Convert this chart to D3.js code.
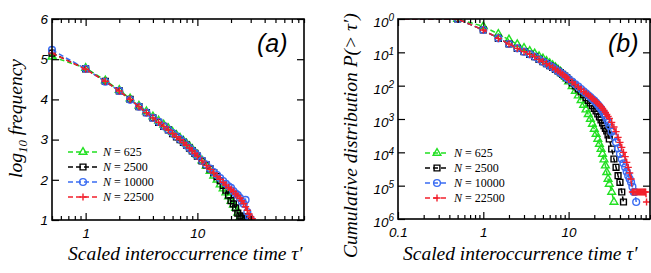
<!DOCTYPE html>
<html>
<head>
<meta charset="utf-8">
<script src="https://cdn.jsdelivr.net/npm/d3@7"></script>
<style>
  body { margin: 0; background: #fff; }
  svg { display: block; }
  .tick text { font-family: "Liberation Sans", Arial, sans-serif; font-style: italic; font-size: 13.5px; fill: #000; }
  .ttl { font-family: "Liberation Serif", "Times New Roman", serif; font-style: italic; font-size: 19.5px; }
  .leg { font-family: "Liberation Serif", "Times New Roman", serif; font-size: 12px; }
  .tag { font-family: "Liberation Sans", Arial, sans-serif; font-style: italic; font-size: 25px; }
</style>
</head>
<body>
<svg id="chart" width="651" height="273"></svg>
<script>
// legend labels (system sizes)
var sizes = ["625", "2500", "10000", "22500"];

// ---- panel (a): log10 frequency vs scaled time ----
var tauA = [0.5, 1, 1.5, 2, 2.5, 3, 3.5, 4, 4.5, 5, 5.5, 6, 6.5, 7, 7.5, 8, 8.5, 9, 9.5, 10,
            11, 12, 13, 14, 15, 16, 17, 18, 19, 20, 21, 22, 23, 24, 25, 26, 27, 28, 29, 30, 31];
var freq625   = [5.06, 4.78, 4.47, 4.23, 4.02, 3.84, 3.70, 3.57, 3.47, 3.37, 3.28, 3.19, 3.11, 3.04, 2.97, 2.90, 2.83, 2.76, 2.69, 2.62,
                 2.48, 2.35, 2.22, 2.10, 2.00, 1.88, 1.78, 1.68, 1.58, 1.47, 1.38, 1.30, 1.18, 1.06];
var freq2500  = [5.15, 4.76, 4.45, 4.21, 4.00, 3.82, 3.67, 3.54, 3.43, 3.33, 3.24, 3.15, 3.07, 3.00, 2.93, 2.86, 2.79, 2.72, 2.66, 2.59,
                 2.47, 2.37, 2.27, 2.18, 2.08, 1.98, 1.86, 1.74, 1.62, 1.48, 1.40, 1.30, 1.17, 1.10, 1.04, 1.08, 1.02, 1.05, 1.00];
var freq10000 = [5.23, 4.76, 4.44, 4.21, 3.99, 3.82, 3.67, 3.54, 3.44, 3.33, 3.24, 3.16, 3.08, 3.01, 2.94, 2.86, 2.79, 2.72, 2.66, 2.60,
                 2.48, 2.38, 2.28, 2.19, 2.12, 2.04, 1.97, 1.90, 1.84, 1.80, 1.72, 1.66, 1.62, 1.55, 1.46, 1.40, 1.50, 1.20, 1.08, 1.02];
var freq22500 = [5.15, 4.75, 4.45, 4.21, 4.00, 3.82, 3.67, 3.54, 3.43, 3.33, 3.24, 3.15, 3.07, 3.00, 2.93, 2.86, 2.79, 2.72, 2.66, 2.59,
                 2.47, 2.36, 2.26, 2.17, 2.09, 2.01, 1.94, 1.87, 1.81, 1.76, 1.71, 1.65, 1.60, 1.54, 1.48, 1.41, 1.33, 1.24, 1.15, 1.08, 1.03];

// ---- panel (b): cumulative distribution ----
var tauB = [0.05, 0.5, 1, 1.5, 2, 2.5, 3, 3.5, 4, 4.5, 5, 5.5, 6, 6.5, 7, 7.5, 8, 8.5, 9, 9.5, 10,
            11, 12, 13, 14, 15, 16, 17, 18, 19, 20, 21, 22, 23, 24, 25, 26, 27, 28, 29, 30,
            32, 34, 36, 38, 40, 42, 44, 46, 48, 50, 52, 54, 56, 58, 60, 62, 64, 66, 68, 70, 72, 74, 76, 78, 80, 82];
// log10 P(> tau')
var cum625   = [0, 0, -0.22, -0.45, -0.62, -0.76, -0.87, -0.96, -1.04, -1.12, -1.19, -1.26, -1.33, -1.39, -1.45, -1.52, -1.58, -1.65, -1.72, -1.79, -1.88,
                -2.02, -2.16, -2.30, -2.44, -2.58, -2.72, -2.86, -3.00, -3.15, -3.30, -3.45, -3.60, -3.75, -3.90, -4.05, -4.22, -4.40, -4.60, -4.80, -4.95,
                -5.19, -5.49];
var cum2500  = [0, 0, -0.33, -0.58, -0.75, -0.88, -0.98, -1.06, -1.13, -1.21, -1.28, -1.34, -1.40, -1.45, -1.51, -1.56, -1.61, -1.66, -1.71, -1.76, -1.82,
                -1.92, -2.01, -2.10, -2.19, -2.27, -2.36, -2.44, -2.52, -2.60, -2.68, -2.76, -2.85, -2.94, -3.03, -3.12, -3.20, -3.28, -3.36, -3.48, -3.60,
                -3.90, -4.20, -4.45, -4.70, -4.90, -5.19, -5.49];
var cum10000 = [0, 0, -0.33, -0.58, -0.75, -0.88, -0.98, -1.06, -1.13, -1.21, -1.28, -1.34, -1.40, -1.45, -1.51, -1.56, -1.61, -1.66, -1.71, -1.76, -1.80,
                -1.88, -1.96, -2.03, -2.10, -2.17, -2.23, -2.29, -2.34, -2.40, -2.45, -2.51, -2.57, -2.63, -2.69, -2.76, -2.84, -2.92, -3.00, -3.10, -3.20,
                -3.38, -3.52, -3.70, -3.88, -4.05, -4.20, -4.33, -4.45, -4.58, -4.70, -4.80, -4.90, -5.03, -5.19, -5.19, -5.49];
var cum22500 = [0, 0, -0.33, -0.58, -0.75, -0.88, -0.98, -1.06, -1.13, -1.21, -1.28, -1.34, -1.40, -1.45, -1.51, -1.56, -1.61, -1.66, -1.71, -1.76, -1.81,
                -1.89, -1.97, -2.04, -2.11, -2.17, -2.23, -2.28, -2.33, -2.38, -2.43, -2.48, -2.53, -2.58, -2.63, -2.68, -2.74, -2.80, -2.86, -2.92, -2.98,
                -3.10, -3.24, -3.38, -3.55, -3.70, -3.85, -4.00, -4.13, -4.30, -4.45, -4.62, -4.80, -5.19, -5.19, -5.19, -5.19, -5.19, -5.19, -5.19, -5.19,
                -5.19, -5.19, -5.19, -5.19, -5.19, -5.49];

var yTicksB = [0, -1, -2, -3, -4, -5, -6];

var colors = ["#22e022", "#000000", "#3a6cf2", "#f2202c"];
var shapes = ["tri", "sq", "circ", "plus"];

var svg = d3.select("#chart");

function marker(sel, shape) {
    if (shape == "tri") return sel.attr("d", d3.symbol(d3.symbolTriangle, 26));
    if (shape == "sq") return sel.attr("d", d3.symbol(d3.symbolSquare, 34));
    if (shape == "circ") return sel.attr("d", d3.symbol(d3.symbolCircle, 36));
    return sel.attr("d", "M-3.6,0H3.6M0,-3.6V3.6");
}

function drawPanel(p) {
    var g = svg.append("g");
    var x = d3.scaleLog().domain(p.xDomain).range([p.left, p.right]);
    var y = p.y;

    var clipId = "clip" + p.id;
    svg.append("clipPath").attr("id", clipId).append("rect")
        .attr("x", p.left - p.pad).attr("y", p.top)
        .attr("width", p.right - p.left + p.pad).attr("height", p.bottom - p.top);

    // series
    var line = d3.line().x(function(d) { return x(d[0]); }).y(function(d) { return y(d[1]); });
    p.series.forEach(function(vals, i) {
        var pts = vals.map(function(v, k) { return [p.tau[k], v]; });
        var sg = g.append("g").attr("clip-path", "url(#" + clipId + ")");
        sg.append("path").datum(pts)
            .attr("d", line)
            .attr("fill", "none")
            .attr("stroke", colors[i])
            .attr("stroke-width", 1.5)
            .attr("stroke-dasharray", "5,3");
        sg.selectAll("path.m").data(pts.filter(function(d) { return d[0] >= p.xDomain[0]; }))
            .enter().append("path").attr("class", "m")
            .call(marker, shapes[i])
            .attr("transform", function(d) { return "translate(" + x(d[0]) + "," + y(d[1]) + ")"; })
            .attr("fill", "none")
            .attr("stroke", colors[i])
            .attr("stroke-width", 1.4);
    });

    // minor ticks for log axis
    var minor = x.ticks().filter(function(t) {
        var m = t / Math.pow(10, Math.floor(Math.log10(t) + 1e-9));
        return Math.abs(m - 1) > 1e-6;
    });
    var major = p.xMajor;

    g.append("g").attr("transform", "translate(0," + p.bottom + ")")
        .call(d3.axisBottom(x).tickValues(minor).tickSize(-4).tickFormat(""));
    g.append("g").attr("transform", "translate(0," + p.bottom + ")")
        .call(d3.axisBottom(x).tickValues(major).tickSize(-7).tickPadding(8).tickFormat(d3.format("")));
    g.append("g").attr("transform", "translate(0," + p.top + ")")
        .call(d3.axisTop(x).tickValues(minor).tickSize(-4).tickFormat(""));
    g.append("g").attr("transform", "translate(0," + p.top + ")")
        .call(d3.axisTop(x).tickValues(major).tickSize(-7).tickFormat(""));

    var yl = g.append("g").attr("transform", "translate(" + p.left + ",0)")
        .call(d3.axisLeft(y).tickValues(p.yTicks).tickSize(-7).tickPadding(4).tickFormat(p.yFormat));
    g.append("g").attr("transform", "translate(" + p.right + ",0)")
        .call(d3.axisRight(y).tickValues(p.yTicks).tickSize(-7).tickFormat(""));
    if (p.ySup) {
        yl.selectAll(".tick text").each(function(d) {
            var t = d3.select(this).text("10");
            t.append("tspan").attr("dy", "-0.55em").attr("font-size", "10px").text(String(Math.abs(d)));
        }).attr("dy", "0.55em");
    }

    g.selectAll(".domain").remove();
    g.selectAll(".tick line").attr("stroke", "#000").attr("stroke-width", 1.2);

    g.append("rect")
        .attr("x", p.left).attr("y", p.top)
        .attr("width", p.right - p.left).attr("height", p.bottom - p.top)
        .attr("fill", "none").attr("stroke", "#000").attr("stroke-width", 1.6);

    // legend
    sizes.forEach(function(n, i) {
        var ly = p.legY + i * 15;
        var lg = g.append("g");
        lg.append("line")
            .attr("x1", p.legX).attr("x2", p.legX + p.legW)
            .attr("y1", ly).attr("y2", ly)
            .attr("stroke", colors[i]).attr("stroke-width", 1.5).attr("stroke-dasharray", "5,3");
        lg.append("path").call(marker, shapes[i])
            .attr("transform", "translate(" + (p.legX + p.legW / 2) + "," + ly + ")")
            .attr("fill", "none").attr("stroke", colors[i]).attr("stroke-width", 1.4);
        var tx = lg.append("text").attr("class", "leg")
            .attr("x", p.legX + p.legW + 5).attr("y", ly + 4);
        tx.append("tspan").attr("font-style", "italic").text("N");
        tx.append("tspan").text(" = " + n);
    });

    g.append("text").attr("class", "tag").attr("x", p.tagX).attr("y", 52).text(p.tag);

    g.append("text").attr("class", "ttl")
        .attr("x", p.xTitleX).attr("y", 260)
        .text("Scaled interoccurrence time \u03c4\u2032");
    return g;
}

var ga = drawPanel({
    id: "a", left: 52, right: 304, top: 19, bottom: 220, pad: 6,
    xDomain: [0.5, 90], xMajor: [1, 10],
    y: d3.scaleLinear().domain([1, 6]).range([220, 19]),
    yTicks: [1, 2, 3, 4, 5, 6], yFormat: d3.format("d"),
    tau: tauA, series: [freq625, freq2500, freq10000, freq22500],
    legX: 68, legY: 152, legW: 30, tag: "(a)", tagX: 257, xTitleX: 68
});
ga.append("text").attr("class", "ttl")
    .attr("transform", "translate(22,178) rotate(-90)")
    .call(function(t) {
        t.append("tspan").text("log");
        t.append("tspan").attr("font-size", "13px").attr("dy", "5").text("10");
        t.append("tspan").attr("dy", "-5").text(" frequency");
    });

var gb = drawPanel({
    id: "b", left: 398, right: 650, top: 19, bottom: 219, pad: 0,
    xDomain: [0.1, 90], xMajor: [0.1, 1, 10],
    y: d3.scaleLinear().domain([-6, 0]).range([219, 19]),
    yTicks: yTicksB, yFormat: function(d) { return "10"; }, ySup: true,
    tau: tauB, series: [cum625, cum2500, cum10000, cum22500],
    legX: 425, legY: 153, legW: 24, tag: "(b)", tagX: 608, xTitleX: 403
});
gb.append("text").attr("class", "ttl")
    .attr("transform", "translate(357,258) rotate(-90)")
    .text("Cumulative distribution P(> \u03c4\u2032)");
</script>
</body>
</html>
